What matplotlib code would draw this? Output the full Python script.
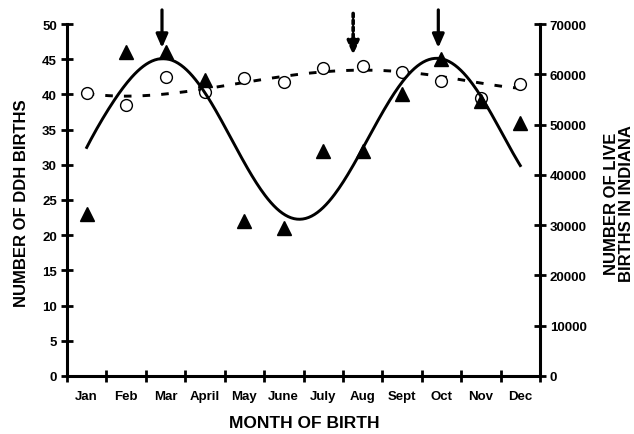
import numpy as np
import matplotlib
matplotlib.use("Agg")
import matplotlib.pyplot as plt

plt.rcParams['font.family'] = ['Liberation Sans', 'DejaVu Sans']
plt.rcParams['font.weight'] = 'bold'

# ---- data ----
months = ["Jan", "Feb", "Mar", "April", "May", "June", "July", "Aug", "Sept", "Oct", "Nov", "Dec"]
ddh_births = [23, 46, 46, 42, 22, 21, 32, 32, 40, 45, 39, 36]
live_births = [56200, 53800, 59500, 56400, 59200, 58500, 61200, 61700, 60400, 58700, 55200, 58100]

# fitted DDH curve, x in month units (0 = start of Jan)
ddh_fit_x = [0.50, 0.92, 1.30, 1.77, 2.36, 2.61, 3.04, 3.46, 3.88, 4.31, 4.73, 5.15, 5.58, 5.91,
             6.34, 6.76, 7.18, 7.61, 8.03, 8.45, 9.04, 9.47, 9.89, 10.32, 10.74, 11.16, 11.50]
ddh_fit_y = [32.5, 36.5, 40.3, 43.1, 44.9, 44.9, 43.6, 40.8, 36.5, 32.2, 28.0, 24.7, 22.8, 22.4,
             23.3, 25.6, 28.9, 33.2, 37.9, 41.7, 44.3, 45.0, 44.1, 41.2, 37.5, 33.2, 29.9]

# fitted live-birth curve
live_fit_x = [0.50, 1.01, 1.47, 1.98, 2.49, 2.99, 3.46, 4.01, 4.43, 4.98, 5.49, 6.00,
              6.51, 6.97, 7.48, 7.99, 8.49, 9.00, 9.51, 10.02, 10.48, 10.99, 11.50]
live_fit_y = [56220, 55740, 55620, 55740, 56080, 56540, 57210, 57730, 58270, 58860, 59400, 60200,
              60590, 60710, 61050, 60710, 60390, 59940, 59600, 58860, 58400, 57610, 57210]

# arrows: (x position, top, tip) in DDH-axis units
solid_arrows = [(2.41, 52.0, 46.6), (9.42, 52.0, 46.6)]
dotted_arrows = [(7.26, 51.5, 45.6)]


def smooth(xs, ys, deg):
    """Render a smooth curve through the read-off points (least-squares polynomial)."""
    xs = np.asarray(xs, float)
    ys = np.asarray(ys, float)
    c = np.polynomial.Polynomial.fit(xs, ys, deg)
    xx = np.linspace(xs[0], xs[-1], 300)
    return xx, c(xx)


fig = plt.figure(figsize=(6.34, 4.35), dpi=100)
L, R, B, T = 67 / 634, 540 / 634, 58 / 435, 410 / 435
ax = fig.add_axes([L, B, R - L, T - B])
ax2 = ax.twinx()

x_centers = np.arange(len(months)) + 0.5

# right axis: live births
lx, ly = smooth(live_fit_x, live_fit_y, 6)
ax2.plot(lx, ly, color='black', lw=2.1, dashes=(2.6, 3.8), zorder=2)
ax2.plot(x_centers, live_births, 'o', ms=8.5, mfc='white', mec='black', mew=1.0, zorder=3)
ax2.set_ylim(0, 70000)
ax2.set_yticks(np.arange(0, 70001, 10000))

# left axis: DDH births
ax.set_zorder(ax2.get_zorder() + 1)
ax.patch.set_visible(False)
dx, dy = smooth(ddh_fit_x, ddh_fit_y, 10)
ax.plot(dx, dy, color='black', lw=2.1, zorder=2)
ax.plot(x_centers, ddh_births, '^', ms=9.5, color='black', zorder=3)
ax.set_ylim(0, 50)
ax.set_xlim(0, 12)
ax.set_yticks(np.arange(0, 51, 5))
ax.set_xticks(np.arange(0, 13))
ax.set_xticklabels([])
ax.set_xticks(x_centers, minor=True)
ax.set_xticklabels(months, minor=True)

for a in (ax, ax2):
    a.spines['top'].set_visible(False)
    for s in a.spines.values():
        s.set_linewidth(2.2)
ax.spines['right'].set_visible(False)
ax2.spines['left'].set_visible(False)
ax2.spines['bottom'].set_visible(False)

ax.tick_params(axis='y', direction='inout', length=8.5, width=2, labelsize=9.5, pad=3)
ax.tick_params(axis='x', which='major', direction='inout', length=9, width=2)
ax.tick_params(axis='x', which='minor', length=0, labelsize=9.5, pad=10)
ax2.tick_params(axis='y', direction='inout', length=8, width=2, labelsize=9.5, pad=3)
for lab in ax.get_yticklabels() + ax.get_xticklabels(minor=True) + ax2.get_yticklabels():
    lab.set_fontweight('bold')

# arrows
for xpos, top, tip in solid_arrows:
    ax.annotate('', xy=(xpos, tip), xytext=(xpos, top),
                arrowprops=dict(arrowstyle='-|>,head_length=0.8,head_width=0.35', lw=2.3,
                                color='black', shrinkA=0, shrinkB=0),
                annotation_clip=False)
for xpos, top, tip in dotted_arrows:
    ax.annotate('', xy=(xpos, tip), xytext=(xpos, top),
                arrowprops=dict(arrowstyle='-|>,head_length=0.8,head_width=0.35', lw=2.6,
                                color='black', shrinkA=0, shrinkB=0, linestyle=(0, (1.0, 0.9))),
                annotation_clip=False)

fig.text(22 / 634, 1 - 203 / 435, "NUMBER OF DDH BIRTHS", rotation=90, ha='center', va='center',
         fontsize=12, fontweight='bold')
fig.text(304 / 634, 1 - 424 / 435, "MONTH OF BIRTH", ha='center', va='center',
         fontsize=12.5, fontweight='bold')
fig.text(619 / 634, 1 - 204 / 435, "NUMBER OF LIVE\nBIRTHS IN INDIANA", rotation=90, ha='center',
         va='center', multialignment='center', fontsize=12, fontweight='bold', linespacing=1.0)

fig.savefig("out.png", dpi=100)
